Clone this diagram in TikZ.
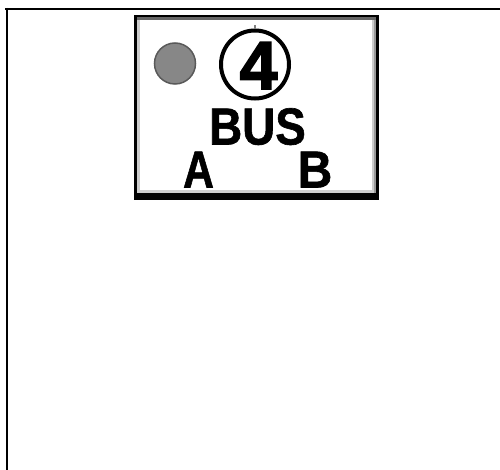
\documentclass[tikz,border=0pt]{standalone}
\usepackage{fontspec}
\setmainfont{Liberation Sans}
\newfontfamily\heavyfont{Liberation Sans Bold}[FakeBold=2.5]
\newfontfamily\semifont{Liberation Sans Bold}[FakeBold=1.2]
\begin{document}
\begin{tikzpicture}[x=1pt,y=-1pt,
  lbl/.style={inner sep=0pt,anchor=base,font=\semifont\fontsize{52}{52}\selectfont},
  frameline/.style={line width=2pt,black}]
\useasboundingbox (0,0) rectangle (500,470);
% outer frame
\draw[frameline] (5,9) -- (500,9);
\draw[frameline] (7,8) -- (7,470);
% sign box with bevel
\fill[black] (134,15) rectangle (379,200);
\fill[black!60] (137,17) rectangle (376,20);
\fill[black!40] (137,20) rectangle (376,193);
\fill[black!20] (137,20) rectangle (374,193);
\fill[white] (140,20) rectangle (372,190);
% grey dot
\node[circle,fill=black!47,draw=black!65,line width=1.5pt,minimum size=41pt,inner sep=0pt] (dot) at (175,63.5) {};
% circled 4
\node[circle,draw=black,line width=4pt,minimum size=68pt,inner sep=0pt] (ring) at (255,64.5) {};
\draw[black!50,line width=1.5pt] (255,25) -- (255,29);
\node[lbl,font=\heavyfont\fontsize{68}{68}\selectfont] (four) at (258.5,89) {4};
% texts
\node[lbl] (bus) at (257.5,144.5) {\scalebox{0.88}[1]{BUS}};
\node[lbl] (a) at (198.5,187.5) {\scalebox{0.82}[1]{A}};
\node[lbl] (b) at (315,187.5) {\scalebox{0.92}[1]{B}};
\end{tikzpicture}
\end{document}
